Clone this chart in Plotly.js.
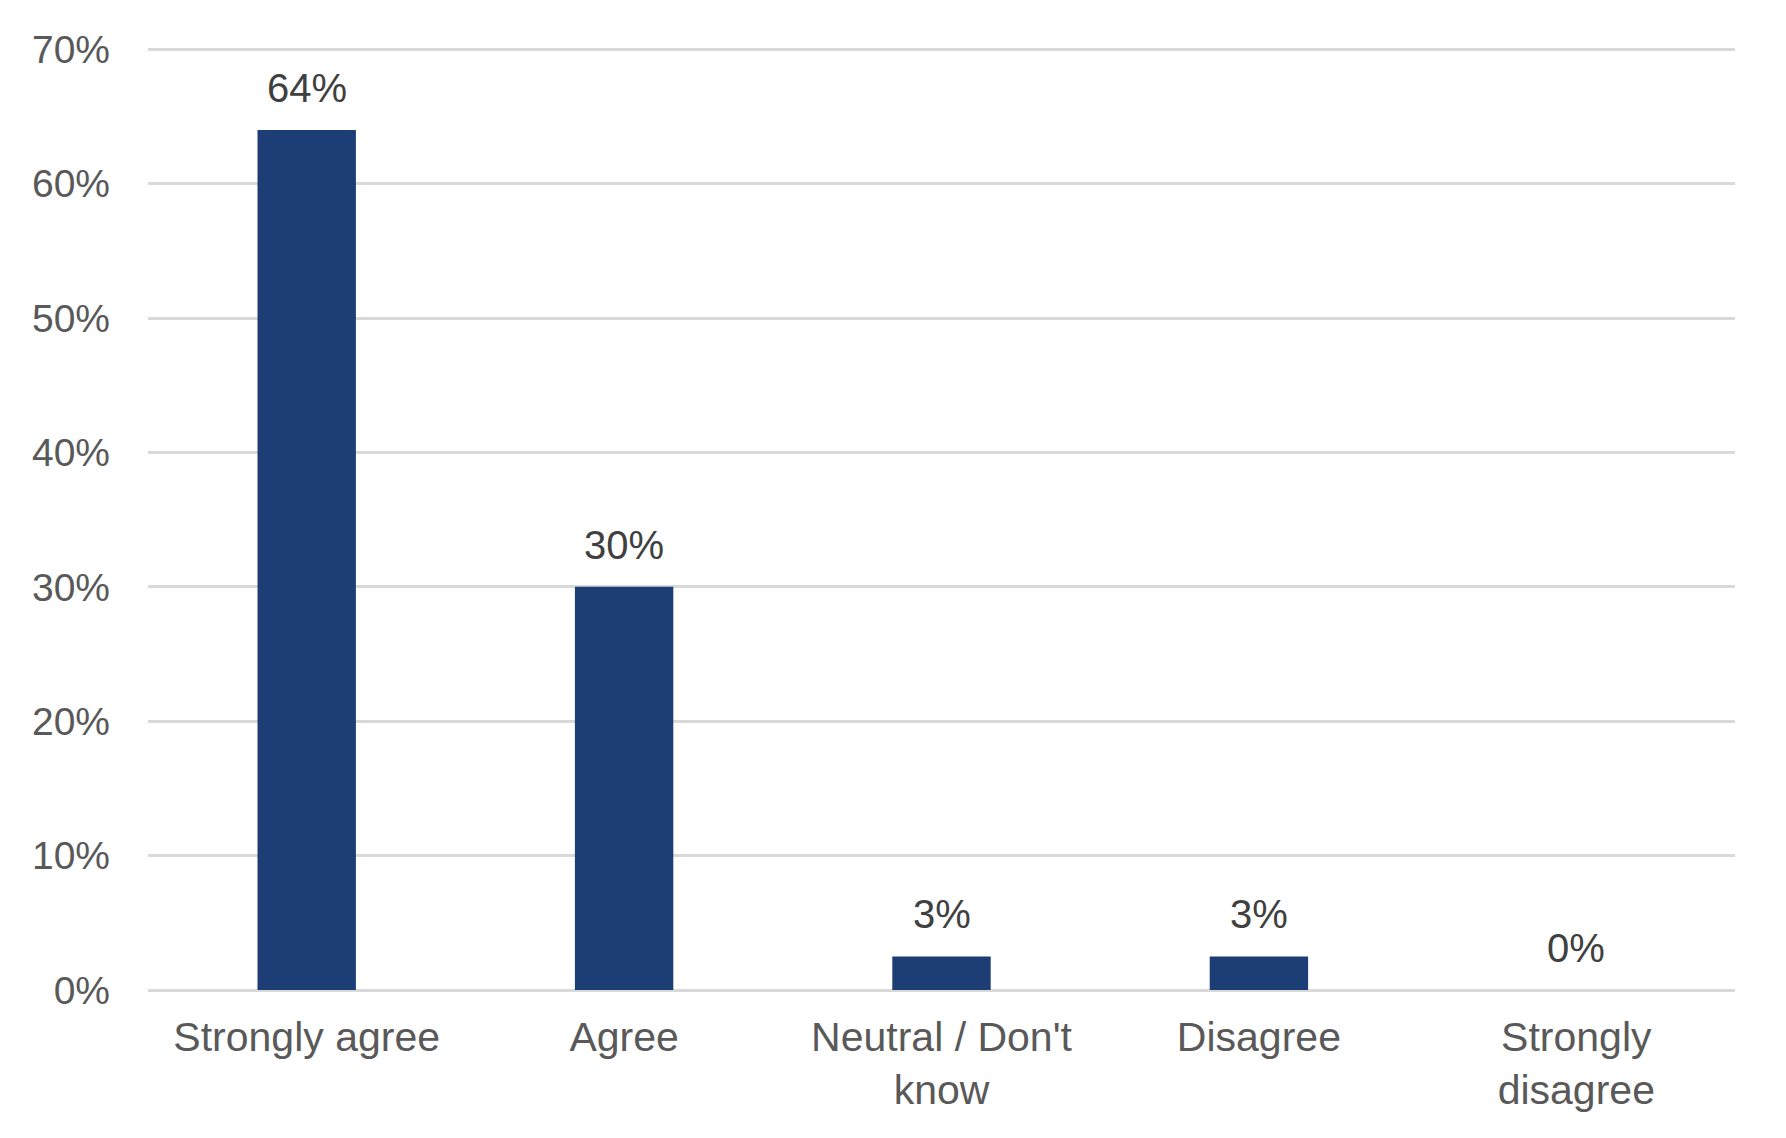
<!DOCTYPE html>
<html>
<head>
<meta charset="utf-8">
<script src="https://cdn.plot.ly/plotly-3.0.1.min.js"></script>
<style>
  html, body { margin: 0; padding: 0; background: #fff; }
  #chart { width: 1786px; height: 1138px; }
</style>
</head>
<body>
<div id="chart"></div>
<script>
// survey responses, share of respondents (%)
var categories = ["Strongly agree", "Agree", "Neutral / Don't<br>know", "Disagree", "Strongly<br>disagree"];
var shares = [64, 30, 2.5, 2.5, 0];
var tickValues = [0, 10, 20, 30, 40, 50, 60, 70];
var tickLabels = ["0%", "10%", "20%", "30%", "40%", "50%", "60%", "70%"];

var fontFamily = "Liberation Sans, Arial, sans-serif";

var trace = {
  type: "bar",
  x: categories,
  y: shares,
  marker: {color: "#1d3d75"},
  hoverinfo: "x+y",
};

// value labels above each bar
var labels = shares.map(function(v, i) {
  return {
    x: categories[i],
    y: v,
    text: Math.round(v) + "%",
    showarrow: false,
    yanchor: "bottom",
    yshift: 18,
    font: {family: fontFamily, size: 40, color: "#404040"},
  };
});

var layout = {
  width: 1786,
  height: 1138,
  margin: {l: 148, r: 51, t: 48, b: 148},
  paper_bgcolor: "#ffffff",
  plot_bgcolor: "#ffffff",
  bargap: 0.69,
  showlegend: false,
  font: {family: fontFamily, size: 40, color: "#595959"},
  xaxis: {
    type: "category",
    showgrid: false,
    showline: false,
    ticks: "",
    ticklabelstandoff: 19,
    tickfont: {family: fontFamily, size: 41, color: "#595959"},
  },
  yaxis: {
    range: [0, 70.1],
    tickvals: tickValues,
    ticktext: tickLabels,
    showgrid: true,
    gridcolor: "#d9d9d9",
    gridwidth: 3,
    zeroline: true,
    zerolinecolor: "#d9d9d9",
    zerolinewidth: 3,
    showline: false,
    ticks: "",
    ticklabelstandoff: 37,
    tickfont: {family: fontFamily, size: 39, color: "#595959"},
  },
  annotations: labels,
};

Plotly.newPlot("chart", [trace], layout, {displayModeBar: false, staticPlot: true});
</script>
</body>
</html>
